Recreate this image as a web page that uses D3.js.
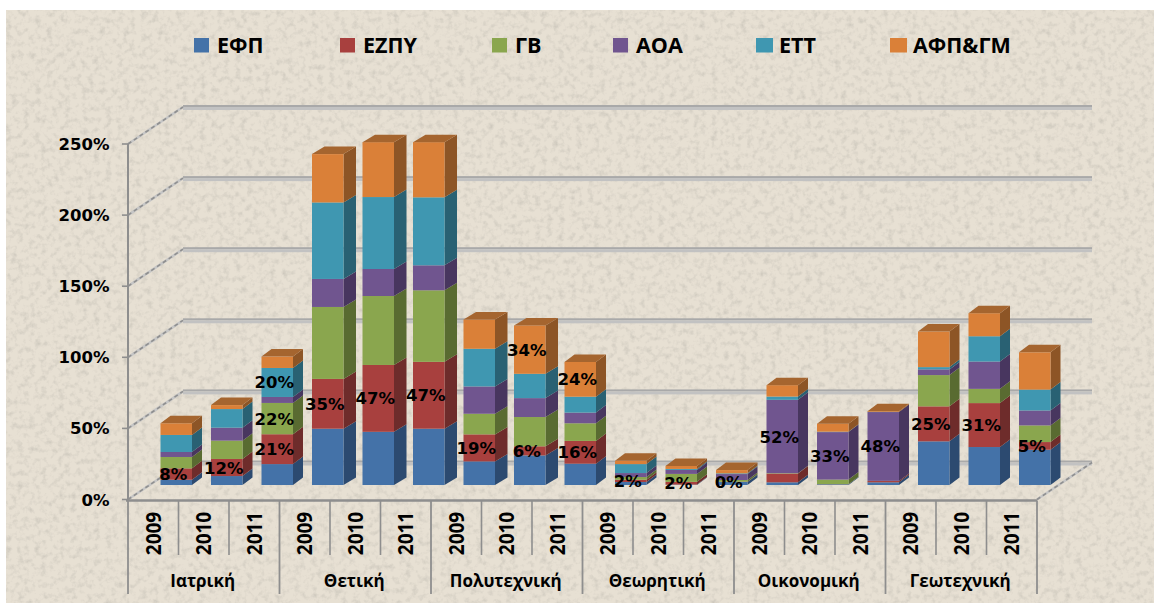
<!DOCTYPE html>
<html><head><meta charset="utf-8">
<style>html,body{margin:0;padding:0;background:#fff}svg{display:block}text{fill:#000;font-weight:700}</style>
<script src="https://cdn.jsdelivr.net/npm/d3@7/dist/d3.min.js"></script>
</head><body><svg id="c" width="1154" height="603"></svg>
<script>
const faculties = ["Ιατρική","Θετική","Πολυτεχνική","Θεωρητική","Οικονομική","Γεωτεχνική"];
const years = ["2009","2010","2011"];
const seriesNames = ["ΕΦΠ","ΕΖΠΥ","ΓΒ","ΑΟΑ","ΕΤΤ","ΑΦΠ&ΓΜ"];
const yTicks = [0,50,100,150,200,250];
// one value per bar: Ιατρική ×3, Θετική ×3, Πολυτεχνική ×3, Θεωρητική ×3, Οικονομική ×3, Γεωτεχνική ×3
const efp  = [3.7,6.3,14.7, 39.6,37.4,39.6, 16.6,20.8,15, 2.1,0.3,2.1, 1.9,0.5,1.9, 30.7,26.7,24.8];
const ezpy = [8,12,21, 35,47,47, 19,6.4,16, 1.6,1.9,0.2, 6.1,0.1,0.9, 24.6,30.9,5.4];
const gv   = [8,12.9,22, 50.6,48.5,50.3, 14.5,20.6,12.4, 1.9,5.6,1.2, 0.3,3.2,0.1, 22,10,11.7];
const aoa  = [3.5,9.1,4.2, 19.7,19,17.6, 19.2,13.3,7.5, 2.8,2.8,4.2, 51.6,33.4,48.4, 4,19.2,10.5];
const ett  = [12,13.1,20.4, 53.8,50.6,47.8, 26.5,17.1,11.2, 6.3,0.7,0.5, 2.3,0.3,0.1, 1.6,17.8,14.7];
const afp  = [8.2,2.8,8, 34,38.6,38.8, 20.6,34,24.4, 2.3,2.1,2.3, 8,5.6,0.5, 25,16.2,26.2];
const seriesValues = [efp,ezpy,gv,aoa,ett,afp];
// [bar index, series index] of each printed percentage
const labelled = [[0,1],[1,1],[2,1],[2,2],[2,4],[3,1],[4,1],[5,1],[6,1],[7,1],[7,5],[8,1],[8,5],[9,1],[10,1],[11,1],[12,3],[13,3],[14,3],[15,1],[16,1],[17,1]];

const front = ["#4472a8","#a8403e","#8aa64e","#70558f","#3f97b1","#da8038"];
const side  = ["#2c4a70","#6e2c2b","#596b31","#48365f","#296173","#8d5526"];
const capC  = "#a5652f";

const svg = d3.select("#c");
const defs = svg.append("defs");
const f = defs.append("filter").attr("id","paper").attr("x",0).attr("y",0).attr("width","100%").attr("height","100%");
f.append("feTurbulence").attr("type","fractalNoise").attr("baseFrequency",0.17).attr("numOctaves",3).attr("seed",11).attr("result","n");
f.append("feColorMatrix").attr("in","n").attr("type","matrix")
 .attr("values","0 0 0 0 0.55  0 0 0 0 0.52  0 0 0 0 0.46  0 1.5 0 0 -0.68").attr("result","s");
f.append("feComposite").attr("in","s").attr("in2","SourceGraphic").attr("operator","over");
svg.append("rect").attr("x",6).attr("y",10).attr("width",1148).attr("height",593).attr("fill","#e7e0d3").attr("filter","url(#paper)");

const H = d3.scaleLinear().domain([0,250]).range([0,355.5]);   // height of a value
const x0 = 128, x1 = 1037, y0 = 499.5, baseY = 485, bdx = 55, bdy = -37;
const yFront = v => y0 - H(v);
const nBars = faculties.length*years.length;
const xBand = d3.scaleBand().domain(d3.range(nBars)).range([x0,x1]);
const barW = 31.5;
const barX = i => xBand(i) + 32.5;
const axisC = "#8e8e8e";

function diagonal(xa,ya,xb,yb){
  svg.append("line").attr("x1",xa).attr("y1",ya).attr("x2",xb).attr("y2",yb).attr("stroke","#c6c6c6").attr("stroke-width",2.6);
  svg.append("line").attr("x1",xa).attr("y1",ya).attr("x2",xb).attr("y2",yb).attr("stroke","#8f8f8f").attr("stroke-width",1.6).attr("stroke-dasharray","4 3");
}
// back wall grid + wall diagonals
yTicks.forEach(t=>{
  const y = yFront(t)+bdy;
  svg.append("rect").attr("x",x0+bdx).attr("y",y-2).attr("width",x1-x0).attr("height",2).attr("fill","#a9a9a9");
  svg.append("rect").attr("x",x0+bdx).attr("y",y).attr("width",x1-x0).attr("height",3).attr("fill","#c2c2c2");
  diagonal(x0,yFront(t),x0+bdx,y);
});
diagonal(x1,y0,x1+bdx,y0+bdy);

// axes
const yAxis = d3.scaleLinear().domain([0,250]).range([y0,y0-355.5]);
svg.append("line").attr("x1",x0).attr("x2",x0).attr("y1",yAxis(250)).attr("y2",y0).attr("stroke",axisC).attr("stroke-width",2);
yTicks.forEach(t=>{
  svg.append("line").attr("x1",x0-6).attr("x2",x0).attr("y1",yAxis(t)).attr("y2",yAxis(t)).attr("stroke",axisC).attr("stroke-width",1.6);
  svg.append("text").attr("x",109.5).attr("y",yAxis(t)+6).attr("text-anchor","end")
    .style("font-family","'DejaVu Sans'").style("font-size","16.5px").text(t+"%");
});
svg.append("line").attr("x1",x0-2).attr("x2",x1).attr("y1",y0+1).attr("y2",y0+1).attr("stroke",axisC).attr("stroke-width",2.4);

d3.range(nBars+1).forEach(i=>{
  const x = i<nBars ? xBand(i) : x1;
  const major = i%3===0;
  svg.append("line").attr("x1",x).attr("x2",x).attr("y1",y0+1).attr("y2",major?594:555).attr("stroke",axisC).attr("stroke-width",major?1.8:1.6);
});
d3.range(nBars).forEach(i=>{
  const cx = xBand(i)+xBand.bandwidth()/2;
  svg.append("text").attr("transform",`translate(${cx+7.5},533.5) rotate(-90) scale(1,1.1)`).attr("text-anchor","middle")
    .style("font-family","'Open Sans'").style("font-size","19px").text(years[i%3]);
});
faculties.forEach((n,k)=>{
  const cx = xBand(k*3)+xBand.bandwidth()*1.5-1;
  svg.append("text").attr("x",cx).attr("y",587).attr("text-anchor","middle")
    .style("font-family","'Open Sans'").style("font-size","17px").text(n);
});

// bars: cumulated stacks
const stack = d3.stack().keys(d3.range(6)).value((d,k)=>seriesValues[k][d])(d3.range(nBars));
const Y = v => baseY - H(v);
const depth = i => (i>=3 && i<=7) ? 12.5 : 10;
const dy = -7.5;
const g = svg.append("g");
stack.forEach((layer,k)=>{
  layer.forEach((p,i)=>{
    const x = barX(i), d = depth(i), a=Y(p[0]), b=Y(p[1]);
    g.append("polygon").attr("fill",side[k])
      .attr("points",[[x+barW,a],[x+barW+d,a+dy],[x+barW+d,b+dy],[x+barW,b]].join(" "));
    g.append("rect").attr("x",x).attr("y",b).attr("width",barW).attr("height",a-b).attr("fill",front[k]);
    if(k===5){
      g.append("polygon").attr("fill",capC)
       .attr("points",[[x,b],[x+barW,b],[x+barW+d,b+dy],[x+d,b+dy]].join(" "));
    }
  });
});

// value labels
labelled.forEach(([i,k])=>{
  const p = stack[k][i];
  svg.append("text").attr("x",barX(i)+barW/2-3).attr("y",(Y(p[0])+Y(p[1]))/2+6)
    .attr("text-anchor","middle").style("font-family","'DejaVu Sans'").style("font-size","16.5px")
    .text(d3.format(".0f")(seriesValues[k][i])+"%");
});

// legend
const legendStart = [194,340,492,613,756,890];
seriesNames.forEach((n,k)=>{
  const x = legendStart[k];
  svg.append("rect").attr("x",x).attr("y",38).attr("width",k>=4?17:15).attr("height",14.5).attr("fill",front[k]);
  svg.append("text").attr("x",x+23).attr("y",52.5).style("font-family","'Open Sans'").style("font-size","21.5px").text(n);
});
</script></body></html>
